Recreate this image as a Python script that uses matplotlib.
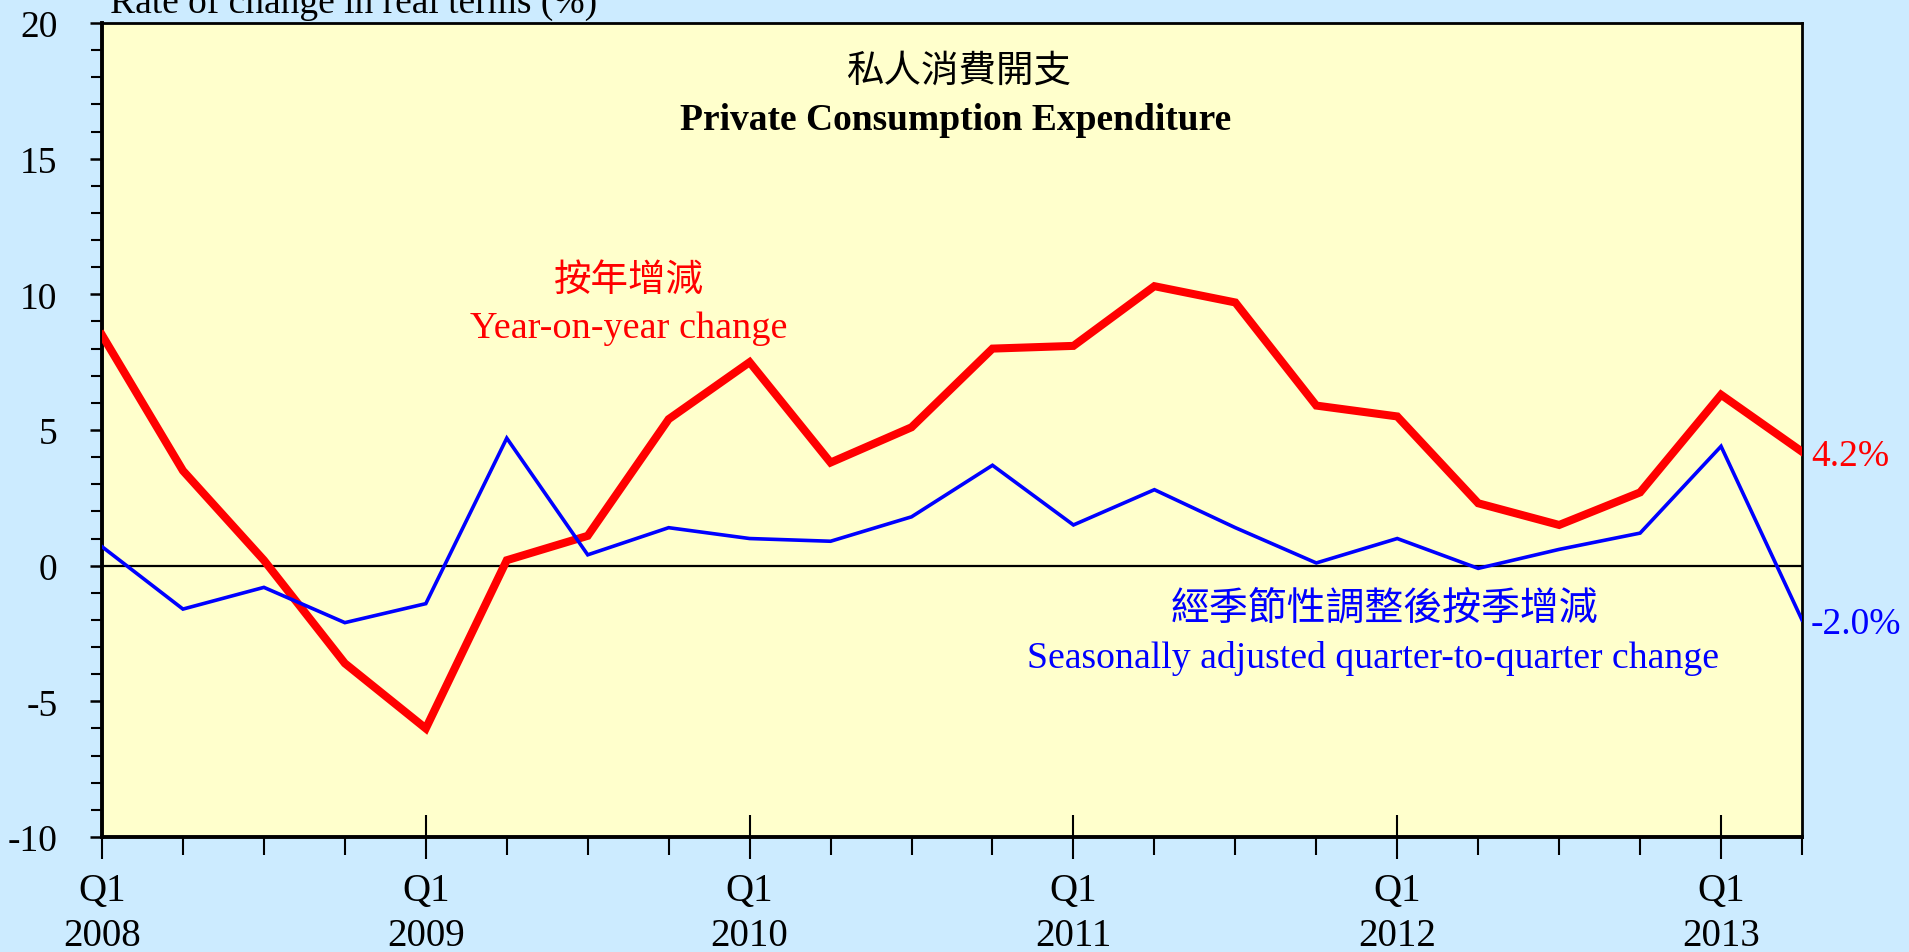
import matplotlib
matplotlib.use("Agg")
import matplotlib.pyplot as plt
from matplotlib.ticker import FixedLocator, MultipleLocator

# quarters Q1 2008 .. Q2 2013
quarters = list(range(22))
year_labels = ["2008", "2009", "2010", "2011", "2012", "2013"]

yoy_change = [8.5, 3.5, 0.2, -3.6, -6.0, 0.2, 1.1, 5.4, 7.5, 3.8, 5.1, 8.0,
              8.1, 10.3, 9.7, 5.9, 5.5, 2.3, 1.5, 2.7, 6.3, 4.2]
qoq_change = [0.7, -1.6, -0.8, -2.1, -1.4, 4.7, 0.4, 1.4, 1.0, 0.9, 1.8, 3.7,
              1.5, 2.8, 1.4, 0.1, 1.0, -0.1, 0.6, 1.2, 4.4, -2.0]

BG = "#CCEBFF"
PANEL = "#FFFFCC"
SERIF = ["Liberation Serif", "Noto Sans CJK TC"]
CJK = ["Noto Sans CJK TC", "Liberation Serif"]

plt.rcParams["axes.unicode_minus"] = False

W, H = 1909, 953
fig = plt.figure(figsize=(W / 100, H / 100), dpi=100, facecolor=BG)
ax = fig.add_axes([102 / W, 1 - 838 / H, (1802 - 102) / W, (838 - 24) / H])
ax.set_facecolor(PANEL)

ax.plot(quarters, yoy_change, color="#FF0000", lw=5.8, solid_joinstyle="miter", zorder=3)
ax.plot(quarters, qoq_change, color="#0000FF", lw=2.6, solid_joinstyle="miter", zorder=4)
ax.axhline(0, color="black", lw=1.6, zorder=2)

ax.set_xlim(0, 21)
ax.set_ylim(-10, 20)

# y axis
ax.yaxis.set_major_locator(MultipleLocator(5))
ax.yaxis.set_minor_locator(MultipleLocator(1))
ax.tick_params(axis="y", which="major", direction="out", length=9, width=1.8,
               pad=23, labelsize=27)
ax.tick_params(axis="y", which="minor", direction="out", length=8, width=1.5)
for lab in ax.get_yticklabels():
    lab.set_family(SERIF)

# x axis: Q1 ticks crossing the axis, quarterly ticks below it
q1_pos = [i * 4 for i in range(len(year_labels))]
ax.xaxis.set_major_locator(FixedLocator(q1_pos))
ax.xaxis.set_minor_locator(FixedLocator([q for q in quarters if q % 4 != 0]))
ax.set_xticklabels(["Q1\n" + y for y in year_labels], family=SERIF,
                   fontsize=28, linespacing=1.28)
ax.tick_params(axis="x", which="major", direction="inout", length=32, width=1.5,
               pad=9)
ax.tick_params(axis="x", which="minor", direction="out", length=13, width=1.5)

for side in ["left", "bottom"]:
    ax.spines[side].set_linewidth(2.8)
for side in ["top", "right"]:
    ax.spines[side].set_linewidth(2.0)

# texts
def px_text(x, y, s, **kw):
    fig.text(x / W, 1 - y / H, s, **kw)

px_text(110, 13, "Rate of change in real terms (%)", family=SERIF, fontsize=27,
        ha="left", va="baseline")
px_text(959, 71, "私人消費開支", family=CJK, fontsize=27, ha="center", va="center")
px_text(956, 121, "Private Consumption Expenditure", family=SERIF, fontsize=27,
        weight="bold", ha="center", va="center")
px_text(629, 280, "按年增減", family=CJK, fontsize=27, color="#FF0000",
        ha="center", va="center")
px_text(629, 329, "Year-on-year change", family=SERIF, fontsize=27.5, color="#FF0000",
        ha="center", va="center")
px_text(1384, 609, "經季節性調整後按季增減", family=CJK, fontsize=28, color="#0000FF",
        ha="center", va="center")
px_text(1373, 658, "Seasonally adjusted quarter-to-quarter change", family=SERIF,
        fontsize=27.2, color="#0000FF", ha="center", va="center")

ax.annotate(f"{yoy_change[-1]:.1f}%", (quarters[-1], yoy_change[-1]),
            xytext=(9, -4), textcoords="offset pixels", ha="left", va="center",
            family=SERIF, fontsize=27, color="#FF0000", annotation_clip=False)
ax.annotate(f"{qoq_change[-1]:.1f}%", (quarters[-1], qoq_change[-1]),
            xytext=(9, -4), textcoords="offset pixels", ha="left", va="center",
            family=SERIF, fontsize=27, color="#0000FF", annotation_clip=False)

fig.savefig("out.png", dpi=100, facecolor=BG)
